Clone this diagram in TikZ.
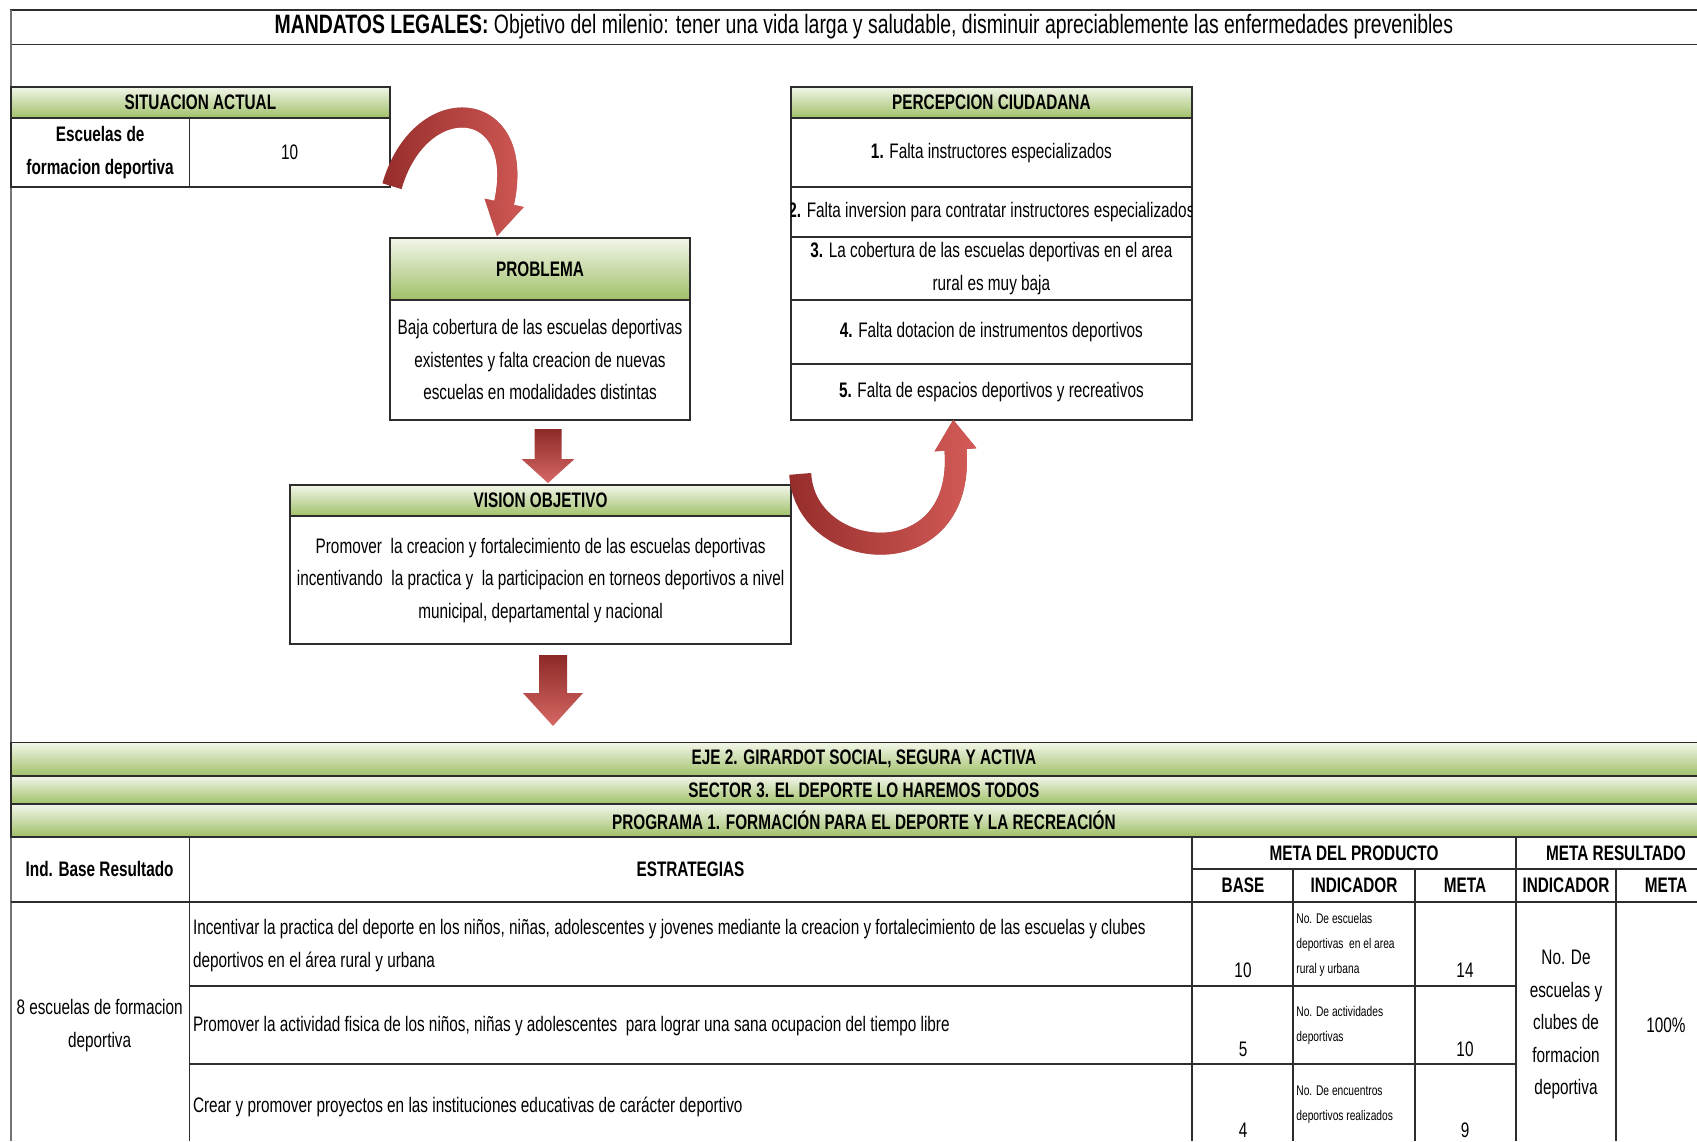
\documentclass[tikz,border=0pt]{standalone}
\usepackage{fontspec}
\setmainfont[FakeStretch=0.73]{Liberation Sans}
\usetikzlibrary{arrows.meta,calc,fadings}

\definecolor{hdrtop}{RGB}{242,246,234}
\definecolor{hdrbot}{RGB}{160,192,104}
\definecolor{linec}{RGB}{45,45,45}
\definecolor{framec}{RGB}{115,115,115}
\definecolor{arrdark}{RGB}{140,42,40}
\definecolor{arrlight}{RGB}{214,104,100}
\definecolor{arrc}{RGB}{150,46,44}
\definecolor{arrcl}{RGB}{212,92,88}
\tikzfading[name=fadeleft, left color=transparent!100, right color=transparent!0]

\begin{document}
\begin{tikzpicture}[x=0.5pt,y=-0.5pt]
        \tikzset{box/.style = {shape=rectangle,draw=linec,line width=0.9pt,anchor=north west,inner sep=0pt,outer sep=0pt,align=center,font=\fontsize{10.5}{16.25}\selectfont}}
        \tikzset{boxh/.style = {box,top color=hdrtop,bottom color=hdrbot,font=\fontsize{10.5}{13}\selectfont\bfseries}}
        \tikzset{band/.style = {boxh,minimum width=853.1pt}}
        \tikzset{txt/.style = {inner sep=0pt,align=center,font=\fontsize{10.5}{16.25}\selectfont}}
        \tikzset{txtb/.style = {txt,font=\fontsize{10.5}{13}\selectfont\bfseries}}
        \tikzset{txts/.style = {inner sep=0pt,align=left,anchor=west,font=\fontsize{7}{12.5}\selectfont}}
        \tikzset{tline/.style = {draw=linec,line width=0.9pt}}
        \tikzset{arrowd/.style = {top color=arrdark,bottom color=arrlight,draw=none}}
        \tikzset{arrowc/.style = {-{Triangle[width=20pt,length=17pt,line width=0pt]},line width=10pt,draw=arrc}}
        \tikzset{arrowcc/.style = {-{Triangle[width=21pt,length=15pt,line width=0pt]},line width=11pt,draw=arrc}}
        \useasboundingbox (0,0) rectangle (1697,1141);
        \clip (0,0) rectangle (1697,1141);

        % title
        \node[box,minimum width=853.1pt,minimum height=17.35pt,font=\fontsize{13.3}{16}\selectfont] (ttl) at (10.8,9.7) {\textbf{MANDATOS LEGALES:} Objetivo del milenio: tener una vida larga y saludable, disminuir apreciablemente las enfermedades prevenibles};
        \draw[framec,line width=1pt] (ttl.north west) -- (10.8,1141);

        % situacion actual
        \node[boxh,minimum width=189.6pt,minimum height=15.7pt] (sith) at (10.8,86.6) {SITUACION ACTUAL};
        \node[box,minimum width=89.3pt,minimum height=34.6pt,font=\fontsize{10.5}{16.25}\selectfont\bfseries] (sitl) at (sith.south west) {Escuelas de\\formacion deportiva};
        \node[box,minimum width=100.3pt,minimum height=34.6pt] (sitr) at (sitl.north east) {10};

        % problema
        \node[boxh,minimum width=150pt,minimum height=30.85pt] (probh) at (390,238.1) {PROBLEMA};
        \node[box,minimum width=150pt,minimum height=60.05pt] (probb) at (probh.south west) {Baja cobertura de las escuelas deportivas\\existentes y falta creacion de nuevas\\escuelas en modalidades distintas};

        % percepcion ciudadana
        \node[boxh,minimum width=200.2pt,minimum height=15.7pt] (perh) at (791.2,86.6) {PERCEPCION CIUDADANA};
        \node[box,minimum width=200.2pt,minimum height=34.6pt] (per1) at (perh.south west) {\textbf{1.} Falta instructores especializados};
        \node[box,minimum width=200.2pt,minimum height=24.9pt] (per2) at (per1.south west) {};
        \node[box,minimum width=200.2pt,minimum height=31.4pt] (per3) at (per2.south west) {\textbf{3.} La cobertura de las escuelas deportivas en el area\\rural es muy baja};
        \node[box,minimum width=200.2pt,minimum height=31.95pt] (per4) at (per3.south west) {\textbf{4.} Falta dotacion de instrumentos deportivos};
        \node[box,minimum width=200.2pt,minimum height=28.1pt] (per5) at (per4.south west) {\textbf{5.} Falta de espacios deportivos y recreativos};
        \begin{scope}
            \clip (per2.south west) rectangle (per2.north east);
            \node[txt] (per2t) at (per2.center) {\textbf{2.} Falta inversion para contratar instructores especializados};
        \end{scope}

        % vision objetivo
        \node[boxh,minimum width=250.6pt,minimum height=15.7pt] (vish) at (290,484.9) {VISION OBJETIVO};
        \node[box,minimum width=250.6pt,minimum height=63.85pt] (visb) at (vish.south west) {Promover\ \ la creacion y fortalecimiento de las escuelas deportivas\\incentivando\ \ la practica y\ \ la participacion en torneos deportivos a nivel\\municipal, departamental y nacional};

        % arrows
        \shade[arrowd] (534.5,429) -- (561.5,429) -- (561.5,459) -- (574.5,459) -- (548,483) -- (521.5,459) -- (534.5,459) -- cycle;
        \shade[arrowd] (539,655) -- (567,655) -- (567,693) -- (583,693) -- (553,726) -- (523,693) -- (539,693) -- cycle;
        \draw[arrowc] ($(sitr.south east)+(2,-1)$) .. controls +(28,-98) and +(30,-140) .. ($(probh.north west)+(107,-2)$);
        \draw[arrowc,draw=arrcl,path fading=fadeleft] ($(sitr.south east)+(2,-1)$) .. controls +(28,-98) and +(30,-140) .. ($(probh.north west)+(107,-2)$);
        \draw[arrowcc] ($(vish.north east)+(9,-11)$) .. controls +(5,90) and +(12,158) .. ($(per5.south west)+(162,0)$);
        \draw[arrowcc,draw=arrcl,path fading=fadeleft] ($(vish.north east)+(9,-11)$) .. controls +(5,90) and +(12,158) .. ($(per5.south west)+(162,0)$);

        % bands
        \node[band,minimum height=16.75pt] (eje) at (10.8,742.5) {EJE 2. GIRARDOT SOCIAL, SEGURA Y ACTIVA};
        \node[band,minimum height=14.1pt] (sec) at (eje.south west) {SECTOR 3. EL DEPORTE LO HAREMOS TODOS};
        \node[band,minimum height=16.2pt] (prog) at (sec.south west) {PROGRAMA 1. FORMACIÓN PARA EL DEPORTE Y LA RECREACIÓN};

        % table lines
        \draw[tline] (189.4,836.6) -- (189.4,1141);
        \draw[tline] (1192,836.6) -- (1192,1141);
        \draw[tline] (1516,836.6) -- (1516,1141);
        \draw[tline] (1292.7,869.2) -- (1292.7,1141);
        \draw[tline] (1415.3,869.2) -- (1415.3,1141);
        \draw[tline] (1616,869.2) -- (1616,1141);
        \draw[tline] (1192,869.2) -- (1717,869.2);
        \draw[tline] (10.8,901.7) -- (1717,901.7);
        \draw[tline] (189.4,986) -- (1516,986);
        \draw[tline] (189.4,1064.3) -- (1516,1064.3);

        % table header
        \node[txtb] (ind) at (99.6,869) {Ind. Base Resultado};
        \node[txtb] (estr) at (690.5,869) {ESTRATEGIAS};
        \node[txtb] (mprod) at (1354,853) {META DEL PRODUCTO};
        \node[txtb] (mres) at (1616,853) {META RESULTADO};
        \node[txtb] (base) at (1243,885) {BASE};
        \node[txtb] (indp) at (1354,885) {INDICADOR};
        \node[txtb] (metap) at (1465,885) {META};
        \node[txtb] (indr) at (1566,885) {INDICADOR};
        \node[txtb] (metar) at (1666,885) {META};

        % table body
        \node[txt] (esc8) at (99.6,1025.4) {8 escuelas de formacion\\deportiva};
        \node[txt,anchor=west,align=left] (est1) at (192.6,945.8) {Incentivar la practica del deporte en los niños, niñas, adolescentes y jovenes mediante la creacion y fortalecimiento de las escuelas y clubes\\deportivos en el área rural y urbana};
        \node[txt,anchor=west] (est2) at (192.6,1026) {Promover la actividad fisica de los niños, niñas y adolescentes\ \ para lograr una sana ocupacion del tiempo libre};
        \node[txt,anchor=west] (est3) at (192.6,1106.7) {Crear y promover proyectos en las instituciones educativas de carácter deportivo};
        \node[txt] (b1) at (1243,970.5) {10};
        \node[txt] (m1) at (1465,970.5) {14};
        \node[txt] (b2) at (1243,1049) {5};
        \node[txt] (m2) at (1465,1049) {10};
        \node[txt] (b3) at (1243,1130.7) {4};
        \node[txt] (m3) at (1465,1130.7) {9};
        \node[txts] (i1) at (1296,945) {No. De escuelas\\deportivas\ \ en el area\\rural y urbana};
        \node[txts] (i2) at (1296,1025.3) {No. De actividades\\deportivas};
        \node[txts] (i3) at (1296,1105) {No. De encuentros\\deportivos realizados};
        \node[txt] (ir) at (1566,1024.7) {No. De\\escuelas y\\clubes de\\formacion\\deportiva};
        \node[txt] (mr) at (1666,1025) {100\%};
\end{tikzpicture}
\end{document}
